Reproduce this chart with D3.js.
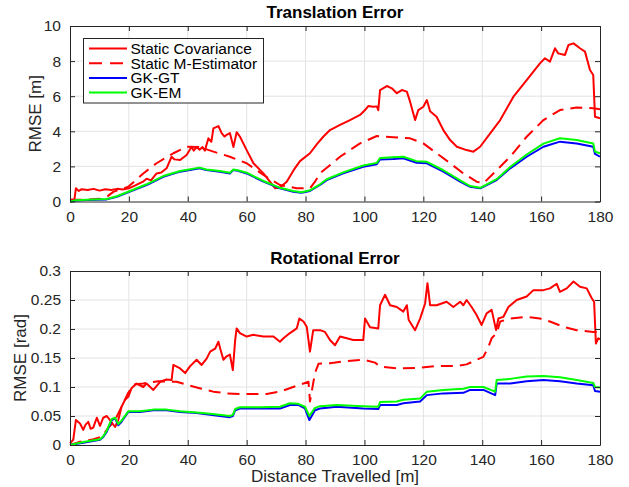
<!DOCTYPE html>
<html><head><meta charset="utf-8">
<script src="https://cdn.jsdelivr.net/npm/d3@7"></script>
<style>body{margin:0;background:#fff}svg{display:block;font-family:"Liberation Sans",Arial,sans-serif}</style>
</head><body><svg id="c" width="629" height="487"></svg>
<script>
// ---------- data (distance [m], RMSE) ----------
const xTicks = [0,20,40,60,80,100,120,140,160,180];
const transYTicks = [0,2,4,6,8,10];
const rotYTicks = [0,0.05,0.1,0.15,0.2,0.25,0.3];
const rotYTickLabels = ["0","0.05","0.1","0.15","0.2","0.25","0.3"];
const seriesNames = ["Static Covariance","Static M-Estimator","GK-GT","GK-EM"];

const transCov = [[0,0.1],[1.5,0.12],[2,0.75],[3,0.6],[4,0.7],[6,0.65],[8,0.72],[10,0.62],[12,0.7],[14,0.65],[16,0.72],[18,0.68],[20,0.75],[22,0.9],[24.8,1.13],[26,1.3],[27.5,1.2],[29.4,1.6],[31,1.65],[32.8,1.89],[34.5,2.55],[35.5,2.4],[37.4,2.36],[39.6,2.65],[41.3,3.12],[42,2.9],[43,3.1],[44,2.95],[45,3.1],[45.8,2.9],[47,3.6],[48,3.4],[48.7,4.17],[50.4,4.3],[51.5,3.9],[52.5,3.7],[53.2,3.8],[54.3,3.9],[55.5,3.1],[56.6,3.95],[57.7,3.7],[60,2.93],[62.3,2.18],[65.7,1.6],[67.9,1.13],[69.7,0.75],[71.3,0.8],[73.6,1.13],[76,1.8],[78.1,2.3],[81.5,2.75],[84,3.3],[86,3.69],[88.3,4.07],[91.7,4.36],[95.1,4.64],[98.5,4.93],[100.2,5.21],[101.3,5.44],[103,5.4],[104.2,5.42],[104.7,5.2],[105.3,6.35],[107.6,6.58],[109.3,6.45],[111,6.17],[112.7,6.35],[114.4,6.26],[115.5,5.69],[117.2,4.64],[118.3,5.21],[120,5.4],[121.2,5.78],[122.3,5.14],[124.5,4.83],[126.8,4.07],[129.1,3.5],[131.4,3.12],[134.7,2.93],[137,2.84],[139.3,3.12],[142.7,3.88],[146.1,4.64],[150.6,5.97],[155.1,6.92],[159.6,7.87],[161.3,8.16],[163,7.97],[164.7,8.73],[165.8,8.44],[168.1,8.35],[169.3,8.92],[171,9.01],[173.2,8.73],[174.9,8.54],[176.6,7.49],[177.7,7.21],[178.3,4.83],[180,4.74]];
const transMest = [[0,0.1],[5,0.1],[10,0.15],[12,0.2],[14.7,0.55],[16.3,0.65],[19.8,0.84],[24.9,1.6],[29.4,2.18],[35.1,2.75],[39.6,3.12],[44,3.1],[48.7,2.84],[54.3,2.55],[60,2.18],[65.7,1.51],[71.3,0.94],[77,0.75],[81.5,0.75],[83.2,1.13],[84.9,1.6],[91.7,2.55],[98.5,3.31],[104.2,3.73],[109.8,3.66],[115.5,3.6],[120,3.31],[124.5,2.75],[129.1,2.18],[133.6,1.6],[138.1,1.13],[140.4,1.04],[143.8,1.6],[149.5,2.55],[155.1,3.69],[160.8,4.64],[166.4,5.21],[172.1,5.36],[177.7,5.31],[180,5.25]];
const transGT = [[0,0],[2,0.05],[5.7,0.09],[12.5,0.12],[15.9,0.27],[20.4,0.56],[26,0.94],[31.7,1.41],[37.4,1.7],[44,1.89],[46.3,1.8],[50.9,1.7],[54.3,1.6],[55.5,1.8],[57,1.75],[60,1.6],[65.7,1.13],[71.3,0.75],[75.8,0.56],[78.6,0.5],[81.5,0.6],[84.9,0.94],[87.2,1.22],[92.8,1.6],[99.6,1.98],[104.2,2.12],[105.3,2.4],[109.8,2.42],[113.2,2.46],[117.7,2.21],[121.2,2.18],[126.8,1.7],[132.5,1.13],[135.9,0.84],[139.3,0.75],[142.7,1.04],[144.9,1.22],[149.5,1.89],[155.1,2.55],[160.8,3.12],[166.4,3.41],[172.1,3.31],[177.7,3.12],[178.3,2.71],[180,2.55]];
const transEM = [[0,0],[2,0.07],[5.7,0.1],[12.5,0.14],[15.9,0.3],[20.4,0.6],[26,0.98],[31.7,1.45],[37.4,1.74],[44,1.93],[46.3,1.82],[50.9,1.74],[54.3,1.64],[55.5,1.82],[57,1.78],[60,1.64],[65.7,1.17],[71.3,0.78],[75.8,0.6],[78.6,0.53],[81.5,0.64],[84.9,0.98],[87.2,1.27],[92.8,1.66],[99.6,2.05],[104.2,2.2],[105.3,2.48],[109.8,2.52],[113.2,2.55],[117.7,2.3],[121.2,2.26],[126.8,1.78],[132.5,1.2],[135.9,0.88],[139.3,0.78],[142.7,1.08],[144.9,1.27],[149.5,1.97],[155.1,2.68],[160.8,3.3],[166.4,3.6],[172.1,3.5],[177.7,3.3],[178.3,2.84],[180,2.75]];

const rotCov = [[0,0.003],[1.1,0.009],[2,0.043],[3.4,0.037],[4.5,0.026],[5.3,0.035],[6.2,0.04],[7,0.028],[7.9,0.03],[9.1,0.047],[10.2,0.033],[11.3,0.047],[12.5,0.05],[13.6,0.043],[15.3,0.031],[16.4,0.043],[17.5,0.066],[18.7,0.078],[19.8,0.083],[20.9,0.098],[22.6,0.106],[24.9,0.1],[26,0.106],[28.3,0.095],[30.6,0.109],[32.8,0.113],[34.5,0.112],[35.1,0.138],[37.4,0.132],[39.1,0.124],[40.8,0.136],[43,0.147],[44.7,0.138],[46.4,0.149],[47.6,0.161],[49.3,0.166],[50.4,0.178],[51.2,0.163],[52.1,0.147],[53.2,0.153],[54.3,0.156],[55.3,0.129],[56.1,0.181],[56.6,0.201],[57.7,0.193],[60,0.187],[62.3,0.19],[65.7,0.187],[69.1,0.187],[71.3,0.178],[72.5,0.184],[74.7,0.193],[77,0.201],[77.9,0.218],[79.3,0.213],[80.4,0.204],[81.5,0.161],[82.6,0.198],[84.9,0.198],[86.6,0.195],[88.3,0.181],[90,0.172],[91.7,0.187],[94,0.184],[96.2,0.181],[99.6,0.181],[100.2,0.218],[101.9,0.203],[104.7,0.201],[105.3,0.241],[107,0.259],[108.7,0.241],[111,0.238],[113.2,0.23],[114.4,0.241],[115,0.216],[117.2,0.198],[118.9,0.218],[120.6,0.244],[121.4,0.279],[122.3,0.241],[124.5,0.241],[127.9,0.247],[130.2,0.238],[132.5,0.247],[133.6,0.241],[134.7,0.25],[136.4,0.238],[138.1,0.224],[139.8,0.207],[141.5,0.227],[143.2,0.233],[144.7,0.198],[145.5,0.218],[147.2,0.221],[148.9,0.238],[151.7,0.25],[155.1,0.256],[157.4,0.267],[160.8,0.267],[163,0.27],[165.3,0.278],[166.4,0.264],[168.7,0.27],[171,0.282],[173.2,0.273],[175.5,0.27],[177.2,0.253],[178,0.247],[178.6,0.175],[179.4,0.184],[180,0.182]];
const rotMest = [[0,0],[3,0.005],[8,0.01],[11,0.015],[13,0.03],[15,0.04],[17.5,0.066],[19.8,0.09],[21.5,0.104],[24.9,0.106],[30,0.11],[36.2,0.109],[39.6,0.104],[44,0.098],[48.7,0.092],[53.2,0.089],[57.7,0.088],[62.3,0.088],[66.8,0.088],[71.3,0.092],[75.8,0.1],[79.3,0.106],[81,0.109],[81.5,0.075],[83.2,0.124],[84.4,0.14],[88.3,0.141],[92.8,0.144],[99.6,0.147],[103.6,0.142],[105.3,0.135],[111,0.132],[117.7,0.133],[124.5,0.136],[131.4,0.136],[134.7,0.139],[138.1,0.147],[140.4,0.152],[142.1,0.169],[143.2,0.184],[144.9,0.193],[146.1,0.213],[149.5,0.218],[155.1,0.221],[159.6,0.218],[163,0.213],[167.5,0.204],[172.1,0.198],[177.7,0.195],[180,0.195]];
const rotGT = [[0,0],[4.5,0.004],[10.2,0.009],[11.3,0.014],[12.5,0.023],[14.2,0.043],[15.3,0.046],[16.4,0.034],[17.5,0.04],[19.8,0.057],[23.8,0.057],[28.3,0.06],[32.8,0.06],[37.4,0.057],[43,0.055],[47.6,0.052],[54.3,0.048],[55.3,0.05],[56.1,0.06],[57.7,0.063],[64.5,0.063],[71.3,0.063],[74.7,0.069],[77.5,0.069],[79.8,0.063],[81.3,0.043],[83.2,0.06],[84.9,0.063],[90.6,0.066],[99.6,0.063],[104.7,0.062],[105.3,0.069],[111,0.069],[113.2,0.072],[118.9,0.075],[121.2,0.086],[126.8,0.089],[133.6,0.09],[135.9,0.095],[140.4,0.095],[144.4,0.086],[144.9,0.106],[149.5,0.106],[155.1,0.11],[160.8,0.112],[166.4,0.11],[172.1,0.106],[177.7,0.103],[178.3,0.093],[180,0.092]];
const rotEM = [[0,0],[4.5,0.005],[10.2,0.01],[11.3,0.015],[12.5,0.025],[14.2,0.045],[15.3,0.047],[16.4,0.036],[17.5,0.042],[19.8,0.058],[23.8,0.058],[28.3,0.061],[32.8,0.061],[37.4,0.058],[43,0.056],[47.6,0.054],[54.3,0.05],[55.3,0.052],[56.1,0.062],[57.7,0.065],[64.5,0.065],[71.3,0.066],[74.7,0.072],[77.5,0.071],[79.8,0.066],[81.3,0.05],[83.2,0.064],[84.9,0.067],[90.6,0.069],[99.6,0.067],[104.7,0.066],[105.3,0.074],[111,0.075],[113.2,0.078],[118.9,0.08],[121.2,0.092],[126.8,0.095],[133.6,0.097],[135.9,0.1],[140.4,0.1],[144.4,0.092],[144.9,0.112],[149.5,0.114],[155.1,0.118],[160.8,0.119],[166.4,0.117],[172.1,0.112],[177.7,0.107],[178.3,0.1],[180,0.099]];

// ---------- drawing ----------
const svg = d3.select("#c");
const L = 70, R = 600;
const AX = "#262626";
const LW = 2;
const styles = [
  {color:"#ff0000", dash:null},
  {color:"#ff0000", dash:"12,7"},
  {color:"#0000ff", dash:null},
  {color:"#00ff00", dash:null}
];

function panel(cfg){
  const x = d3.scaleLinear().domain([0,180]).range([L,R]);
  const y = d3.scaleLinear().domain(cfg.ydom).range([cfg.bottom, cfg.top]);
  const g = svg.append("g");
  g.append("g").selectAll("line").data(xTicks.slice(1,-1)).join("line")
    .attr("x1",d=>x(d)).attr("x2",d=>x(d)).attr("y1",cfg.top).attr("y2",cfg.bottom)
    .attr("stroke","#e3e3e3").attr("stroke-width",1);
  g.append("g").selectAll("line").data(cfg.yticks.slice(1,-1)).join("line")
    .attr("y1",d=>y(d)).attr("y2",d=>y(d)).attr("x1",L).attr("x2",R)
    .attr("stroke","#e3e3e3").attr("stroke-width",1);
  const line = d3.line().x(d=>x(d[0])).y(d=>y(d[1]));
  cfg.series.forEach((s,i)=>{
    g.append("path").datum(s).attr("d",line).attr("fill","none")
      .attr("stroke",styles[i].color).attr("stroke-width",LW)
      .attr("stroke-dasharray",styles[i].dash).attr("stroke-linejoin","round");
  });
  const fs = "15.5px";
  const xb = d3.axisBottom(x).tickValues(xTicks).tickSizeInner(-5).tickSizeOuter(0).tickPadding(9);
  const xt = d3.axisTop(x).tickValues(xTicks).tickSizeInner(-5).tickSizeOuter(0).tickFormat("");
  const yl = d3.axisLeft(y).tickValues(cfg.yticks).tickSizeInner(-5).tickSizeOuter(0).tickPadding(9).tickFormat((d,i)=>cfg.ylabels[i]);
  const yr = d3.axisRight(y).tickValues(cfg.yticks).tickSizeInner(-5).tickSizeOuter(0).tickFormat("");
  [[xb,`translate(0,${cfg.bottom})`],[xt,`translate(0,${cfg.top})`],[yl,`translate(${L},0)`],[yr,`translate(${R},0)`]].forEach(([a,t])=>{
    const ag = g.append("g").attr("transform",t).call(a);
    ag.select(".domain").attr("stroke",AX);
    ag.selectAll(".tick line").attr("stroke",AX);
    ag.selectAll("text").attr("fill",AX).style("font-size",fs).style("font-family","'Liberation Sans',Arial,sans-serif");
  });
  svg.append("text").attr("x",(L+R)/2).attr("y",cfg.titleY).attr("text-anchor","middle")
    .style("font-size","17px").style("font-weight","bold").attr("fill","#000").text(cfg.title);
  svg.append("text").attr("transform",`translate(${cfg.ylabX},${(cfg.top+cfg.bottom)/2}) rotate(-90)`)
    .attr("text-anchor","middle").attr("dy","0.35em").style("font-size","17px").attr("fill",AX).text(cfg.ylabel);
  return {x,y};
}

panel({top:26, bottom:201.5, ydom:[0,10], yticks:transYTicks, ylabels:transYTicks.map(String),
  series:[transCov,transMest,transGT,transEM], title:"Translation Error", titleY:18, ylabel:"RMSE [m]", ylabX:35});
panel({top:271, bottom:445, ydom:[0,0.3], yticks:rotYTicks, ylabels:rotYTickLabels,
  series:[rotCov,rotMest,rotGT,rotEM], title:"Rotational Error", titleY:264, ylabel:"RMSE [rad]", ylabX:20});

svg.append("text").attr("x",(L+R)/2).attr("y",482).attr("text-anchor","middle")
  .style("font-size","17px").attr("fill",AX).text("Distance Travelled [m]");

// legend
const lg = svg.append("g");
lg.append("rect").attr("x",83.5).attr("y",38.5).attr("width",180).attr("height",64.5)
  .attr("fill","#fff").attr("stroke",AX).attr("stroke-width",1);
seriesNames.forEach((n,i)=>{
  const yy = 48.5 + i*14.7;
  lg.append("line").attr("x1",89).attr("x2",127).attr("y1",yy).attr("y2",yy)
    .attr("stroke",styles[i].color).attr("stroke-width",LW).attr("stroke-dasharray",i===1?"13,8":null);
  lg.append("text").attr("x",130.5).attr("y",yy).attr("dy","0.35em").style("font-size","15.5px").attr("fill","#000").text(n);
});
</script></body></html>
